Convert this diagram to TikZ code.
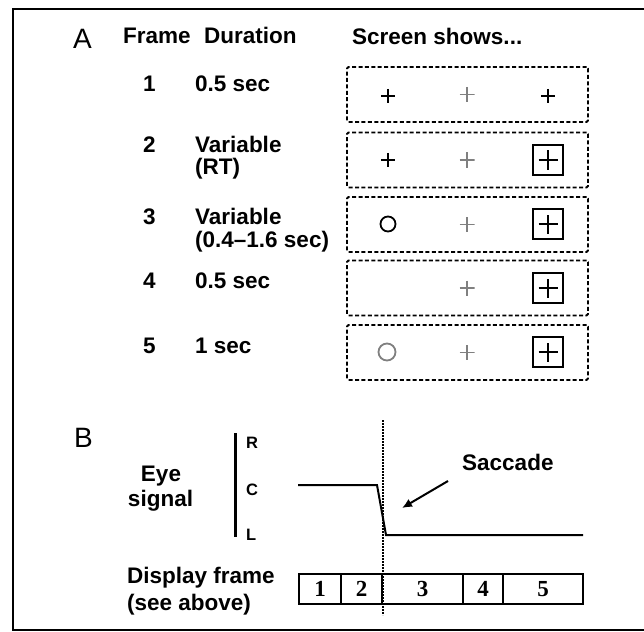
\documentclass[tikz,border=0pt]{standalone}
\usepackage{fontspec}
\setmainfont{Liberation Sans}
\newfontfamily\cellfont{Liberation Serif}
\usetikzlibrary{arrows.meta}

\begin{document}
\begin{tikzpicture}[x=1pt,y=-1pt,
	lbl/.style={inner sep=0pt, anchor=base west, font=\fontsize{22.5}{24}\selectfont\bfseries},
	panel/.style={inner sep=0pt, anchor=base west, font=\fontsize{28}{30}\selectfont},
	poslbl/.style={inner sep=0pt, anchor=west, font=\fontsize{16.5}{18}\selectfont\bfseries},
	screenbox/.style={draw, line width=1.8pt, dash pattern=on 4pt off 2.4pt, rounded corners=1.5pt, minimum width=241pt, minimum height=55pt, inner sep=0pt},
	fixcross/.style={minimum size=14pt, inner sep=0pt, path picture={\draw[line width=2.3pt] (path picture bounding box.west) -- (path picture bounding box.east) (path picture bounding box.north) -- (path picture bounding box.south);}},
	graycross/.style={minimum size=15pt, inner sep=0pt, path picture={\draw[gray, line width=1.6pt] (path picture bounding box.west) -- (path picture bounding box.east) (path picture bounding box.north) -- (path picture bounding box.south);}},
	target/.style={draw, line width=2pt, minimum size=30pt, inner sep=0pt, path picture={\draw[line width=2.8pt] ([xshift=-9.5pt]path picture bounding box.center) -- ([xshift=9.5pt]path picture bounding box.center) ([yshift=-9.5pt]path picture bounding box.center) -- ([yshift=9.5pt]path picture bounding box.center);}},
	ring/.style={circle, draw, line width=1.8pt, minimum size=15pt, inner sep=0pt},
	grayring/.style={ring, gray, minimum size=17pt},
	framecell/.style={draw, line width=1.8pt, minimum height=30pt, inner sep=0pt, font=\fontsize{23}{24}\selectfont\cellfont\bfseries}]
	\useasboundingbox (0,0) rectangle (644,631);
	\draw [line width=2pt] (644,9) -- (13,9) -- (13,630) -- (644,630);

	% A: frames and what the screen shows
	\node [panel] (pa) at (73,49) {A};
	\node [lbl] (hframe) at (123,44) {Frame};
	\node [lbl] (hdur) at (204,44) {Duration};
	\node [lbl] (hscreen) at (352,45) {Screen shows...};
	\foreach \n/\yc/\yb in {1/94.5/92, 2/160/153, 3/224.5/224, 4/288/288, 5/352.5/353} {
		\node [screenbox] (s\n) at (467.5,\yc) {};
		\node [lbl] (n\n) at (143,\yb) {\n};
		\node [graycross] (g\n) at (467,\yc) {};
	}
	\node [lbl] (d1) at (195,92) {0.5 sec};
	\node [lbl] (d2) at (195,153) {Variable};
	\node [lbl] (d2b) at (195,175) {(RT)};
	\node [lbl] (d3) at (195,224) {Variable};
	\node [lbl] (d3b) at (195,247) {(0.4–1.6 sec)};
	\node [lbl] (d4) at (195,288) {0.5 sec};
	\node [lbl] (d5) at (195,353) {1 sec};

	\node [fixcross] (f1) at (388,96) {};
	\node [fixcross] (t1) at (548,96) {};
	\node [fixcross] (f2) at (388,160) {};
	\node [target] (t2) at (548,160) {};
	\node [ring] (f3) at (388,224) {};
	\node [target] (t3) at (548,224) {};
	\node [target] (t4) at (548,288) {};
	\node [grayring] (f5) at (387,352) {};
	\node [target] (t5) at (548,352) {};

	% B: eye signal against display frames
	\node [panel] (pb) at (74,447) {B};
	\node [lbl, anchor=base] (eye) at (161,481) {Eye};
	\node [lbl, anchor=base] (sig) at (160.5,506) {signal};
	\draw [line width=3pt] (235,433) -- (235,537);
	\node [poslbl] (pr) at (246,443) {R};
	\node [poslbl] (pc) at (246,490) {C};
	\node [poslbl] (pl) at (246,535) {L};
	\draw [line width=2pt] (298,485) -- (377,485) -- (386,535) -- (583,535);
	\node [lbl] (sacc) at (462,470) {Saccade};
	\coordinate (arrtail) at (448,481);
	\coordinate (arrtip) at (402,508);
	\draw [line width=2pt, -{Latex[length=10pt,width=9pt]}] (arrtail) -- (arrtip);

	\node [lbl] (disp) at (127,583) {Display frame};
	\node [lbl] (dispb) at (127,610) {(see above)};
	\foreach \xc/\w/\lab in {320/42/1, 361.5/41/2, 422.5/81/3, 483/40/4, 543/80/5}
		\node [framecell, minimum width=\w pt] (c\lab) at (\xc,589) {\lab};
	\draw [line width=1.8pt, dash pattern=on 1.6pt off 1.4pt] (383,420) -- (383,615);
\end{tikzpicture}
\end{document}
